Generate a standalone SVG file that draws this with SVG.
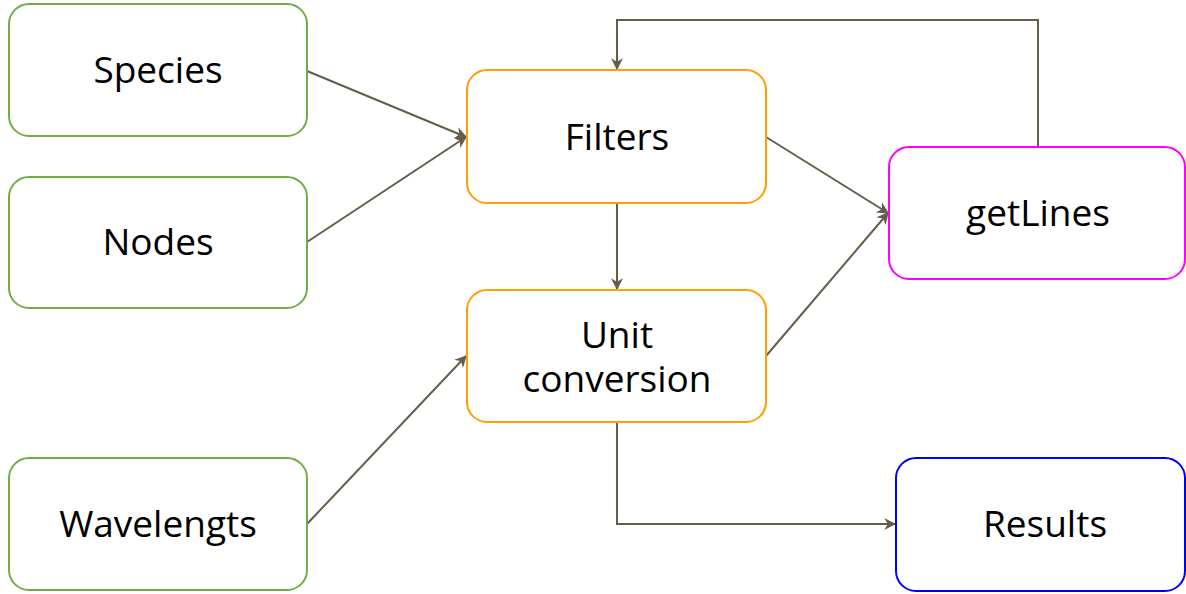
<svg xmlns="http://www.w3.org/2000/svg" width="1186" height="594" viewBox="0 0 1186 594">
  <style>
    .box { fill: #ffffff; stroke-width: 2; }
    .input { stroke: #70ad47; }
    .step { stroke: #ff9f00; }
    .api { stroke: #ff00ff; }
    .out { stroke: #0000ff; }
    .label { font-family: "Open Sans", "Noto Sans", sans-serif; font-size: 37px; fill: #000000; text-anchor: middle; dominant-baseline: central; }
    .edge { fill: none; stroke: #665c4a; stroke-width: 2; marker-end: url(#arrow); }
  </style>
  <defs>
    <marker id="arrow" viewBox="0 0 10 10" refX="9" refY="5" markerWidth="6" markerHeight="6" markerUnits="strokeWidth" orient="auto">
      <path d="M0,0 L10,5 L0,10 L3,5 Z" fill="#665c4a"/>
    </marker>
  </defs>

  <rect width="1186" height="594" fill="#ffffff"/>

  <g id="connectors">
    <path class="edge" d="M307,71 L466,137"/>
    <path class="edge" d="M307,242 L466,137"/>
    <path class="edge" d="M307,524 L466,356"/>
    <path class="edge" d="M617,203 L617,289"/>
    <path class="edge" d="M766,137 L888,213"/>
    <path class="edge" d="M766,356 L888,213"/>
    <path class="edge" d="M1038,147 L1038,20 L617,20 L617,69"/>
    <path class="edge" d="M617,422 L617,524 L895,524"/>
  </g>

  <g id="species">
    <rect class="box input" x="9" y="4" width="298" height="132" rx="20"/>
    <text class="label" x="158" y="68">Species</text>
  </g>
  <g id="nodes">
    <rect class="box input" x="9" y="177" width="298" height="131" rx="20"/>
    <text class="label" x="158" y="240">Nodes</text>
  </g>
  <g id="wavelengts">
    <rect class="box input" x="9" y="458" width="298" height="132" rx="20"/>
    <text class="label" x="158" y="522">Wavelengts</text>
  </g>
  <g id="filters">
    <rect class="box step" x="467" y="70" width="299" height="133" rx="20"/>
    <text class="label" x="617" y="135">Filters</text>
  </g>
  <g id="unit-conversion">
    <rect class="box step" x="467" y="290" width="299" height="132" rx="20"/>
    <text class="label" x="617" y="333">Unit</text>
    <text class="label" x="617" y="377">conversion</text>
  </g>
  <g id="getlines">
    <rect class="box api" x="889" y="147" width="296" height="132" rx="20"/>
    <text class="label" x="1038" y="211">getLines</text>
  </g>
  <g id="results">
    <rect class="box out" x="896" y="458" width="289" height="133" rx="20"/>
    <text class="label" x="1045" y="522">Results</text>
  </g>
</svg>
